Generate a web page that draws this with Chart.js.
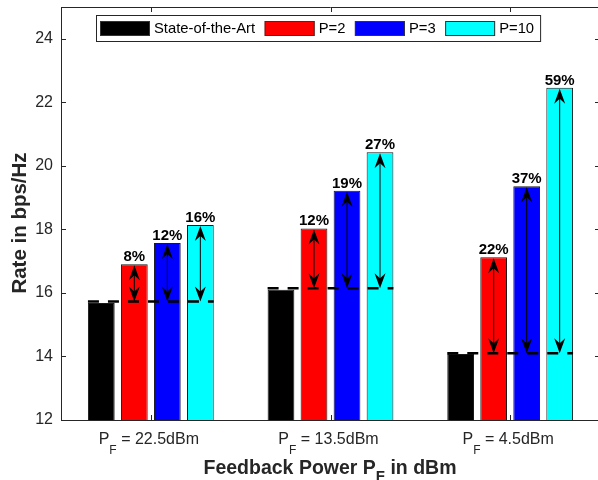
<!DOCTYPE html>
<html>
<head>
<meta charset="utf-8">
<script src="https://cdn.jsdelivr.net/npm/chart.js@4/dist/chart.umd.min.js"></script>
<style>
  html, body { margin: 0; padding: 0; background: #fff; overflow: hidden; }
  #wrap { width: 601px; height: 480px; }
</style>
</head>
<body>
<div id="wrap"><canvas id="rateChart" width="601" height="480"></canvas></div>
<script>
// values
const powerLevels = ["22.5dBm", "13.5dBm", "4.5dBm"];
const seriesNames = ["State-of-the-Art", "P=2", "P=3", "P=10"];
const stateOfArt = [15.68, 16.10, 14.08];
const rateP2 = [16.90, 18.03, 17.12];
const rateP3 = [17.57, 19.22, 19.36];
const rateP10 = [18.14, 20.43, 22.46];
const refLevel = [15.73, 16.15, 14.10];
const gainP2 = ["8%", "12%", "22%"];
const gainP3 = ["12%", "19%", "37%"];
const gainP10 = ["16%", "27%", "59%"];
const yTicks = [12, 14, 16, 18, 20, 22, 24];

const barColors = ["#000000", "#ff0000", "#0000ff", "#00ffff"];
const FONT = "'Liberation Sans', Arial, Helvetica, sans-serif";
const AX = "#262626";

function arrowHead(ctx, x, tipY, dir) {
  // dir = 1 -> points down, -1 -> points up
  const L = 15, W = 5.5, notch = 10;
  ctx.beginPath();
  ctx.moveTo(x, tipY);
  ctx.lineTo(x - W, tipY - dir * L);
  ctx.lineTo(x, tipY - dir * notch);
  ctx.lineTo(x + W, tipY - dir * L);
  ctx.closePath();
  ctx.fill();
}

function subText(ctx, parts, cx, baseline, align) {
  // parts: [text, font, dy]
  let total = 0;
  parts.forEach(p => { ctx.font = p[1]; total += ctx.measureText(p[0]).width; });
  let x = align === "center" ? cx - total / 2 : cx;
  ctx.textAlign = "left";
  ctx.textBaseline = "alphabetic";
  parts.forEach(p => {
    ctx.font = p[1];
    ctx.fillText(p[0], x, baseline + p[2]);
    x += ctx.measureText(p[0]).width;
  });
}

const decor = {
  id: "decor",
  afterDatasetsDraw(chart) {
    const ctx = chart.ctx;
    const yScale = chart.scales.y;
    const metas = [0, 1, 2, 3].map(i => chart.getDatasetMeta(i));
    const gains = [null, gainP2, gainP3, gainP10];
    ctx.save();
    powerLevels.forEach((_, i) => {
      const first = metas[0].data[i], last = metas[3].data[i];
      const x0 = first.x - first.width / 2, x1 = last.x + last.width / 2;
      const yb = yScale.getPixelForValue(refLevel[i]);

      ctx.strokeStyle = "#000";
      ctx.setLineDash([11, 9]);
      ctx.lineWidth = 2.5;
      ctx.beginPath(); ctx.moveTo(x0, yb); ctx.lineTo(x1, yb); ctx.stroke();
      ctx.setLineDash([]);

      for (let d = 1; d < 4; d++) {
        const bar = metas[d].data[i];
        ctx.lineWidth = 1;
        ctx.fillStyle = "#000";
        ctx.beginPath(); ctx.moveTo(bar.x, bar.y + 4); ctx.lineTo(bar.x, yb - 4); ctx.stroke();
        arrowHead(ctx, bar.x, bar.y + 1, -1);
        arrowHead(ctx, bar.x, yb, 1);
        ctx.font = "bold 15px " + FONT;
        ctx.textAlign = "center";
        ctx.textBaseline = "alphabetic";
        ctx.fillText(gains[d][i], bar.x, bar.y - 3);
      }
    });
    ctx.restore();
  },
  afterDraw(chart) {
    const ctx = chart.ctx;
    const { left, right, top, bottom } = chart.chartArea;
    const xs = chart.scales.x, ys = chart.scales.y;
    ctx.save();
    ctx.strokeStyle = AX;
    ctx.lineWidth = 1;
    // top and right edges of the box
    ctx.beginPath();
    ctx.moveTo(left, top + 0.5); ctx.lineTo(right, top + 0.5);
    ctx.moveTo(right - 0.5, top); ctx.lineTo(right - 0.5, bottom);
    ctx.stroke();
    // inward ticks
    ctx.beginPath();
    yTicks.forEach(v => {
      const py = Math.round(ys.getPixelForValue(v)) + 0.5;
      ctx.moveTo(left, py); ctx.lineTo(left + 5, py);
      ctx.moveTo(right, py); ctx.lineTo(right - 5, py);
    });
    powerLevels.forEach((_, i) => {
      const px = Math.round(xs.getPixelForValue(i)) + 0.5;
      ctx.moveTo(px, bottom); ctx.lineTo(px, bottom - 5);
      ctx.moveTo(px, top); ctx.lineTo(px, top + 5);
    });
    ctx.stroke();

    // y title
    ctx.fillStyle = AX;
    ctx.save();
    ctx.translate(20, 223);
    ctx.rotate(-Math.PI / 2);
    ctx.font = "bold 20.5px " + FONT;
    ctx.textAlign = "center";
    ctx.textBaseline = "middle";
    ctx.fillText("Rate in bps/Hz", 0, 0);
    ctx.restore();

    // category labels with subscript
    powerLevels.forEach((lab, i) => {
      subText(ctx, [
        ["P", "16px " + FONT, 0],
        ["F", "12px " + FONT, 10],
        [" = " + lab, "16px " + FONT, 0]
      ], xs.getPixelForValue(i) - 2, 444, "center");
    });
    // x title
    subText(ctx, [
      ["Feedback Power P", "bold 19.5px " + FONT, 0],
      ["F", "bold 15px " + FONT, 7],
      [" in dBm", "bold 19.5px " + FONT, 0]
    ], 330, 474, "center");

    // legend
    const lx = 96, ly = 15, lh = 26, gap = 9.5;
    ctx.font = "14.8px " + FONT;
    let w = 4;
    seriesNames.forEach((n, k) => { w += 50 + 4 + ctx.measureText(n).width + (k < 3 ? gap : 6); });
    ctx.fillStyle = "#fff";
    ctx.fillRect(lx, ly, w, lh);
    ctx.strokeStyle = AX;
    ctx.strokeRect(lx + 0.5, ly + 0.5, w, lh);
    let cx = lx + 4;
    seriesNames.forEach((n, k) => {
      ctx.fillStyle = barColors[k];
      ctx.fillRect(cx, ly + 6, 50, 15);
      ctx.strokeStyle = "#333";
      ctx.strokeRect(cx + 0.5, ly + 6.5, 49, 14);
      ctx.fillStyle = "#000";
      ctx.textAlign = "left";
      ctx.textBaseline = "middle";
      ctx.fillText(n, cx + 54, ly + lh / 2 + 1);
      cx += 50 + 4 + ctx.measureText(n).width + gap;
    });
    ctx.restore();
  }
};

const seriesData = [stateOfArt, rateP2, rateP3, rateP10];

new Chart(document.getElementById("rateChart"), {
  type: "bar",
  data: {
    labels: powerLevels,
    datasets: seriesNames.map((name, k) => ({
      label: name,
      data: seriesData[k],
      backgroundColor: barColors[k],
      borderColor: "#1a1a1a",
      borderWidth: 1,
      categoryPercentage: 0.735,
      barPercentage: 0.81
    }))
  },
  options: {
    responsive: false,
    animation: false,
    layout: { padding: { top: 7, right: 1, left: 0, bottom: 0 } },
    plugins: { legend: { display: false }, tooltip: { enabled: false } },
    scales: {
      x: {
        grid: { display: false, drawTicks: false },
        border: { display: true, color: AX },
        ticks: { display: false },
        afterFit(scale) { scale.height = 60; scale.paddingLeft = 0; scale.paddingRight = 0; }
      },
      y: {
        min: 12,
        max: 25,
        grid: { display: false, drawTicks: false },
        border: { display: true, color: AX },
        afterBuildTicks(scale) { scale.ticks = yTicks.map(v => ({ value: v })); },
        ticks: { color: AX, padding: 8, font: { family: FONT, size: 16 } },
        afterFit(scale) { scale.width = 61; scale.paddingTop = 0; scale.paddingBottom = 0; }
      }
    }
  },
  plugins: [decor]
});
</script>
</body>
</html>
